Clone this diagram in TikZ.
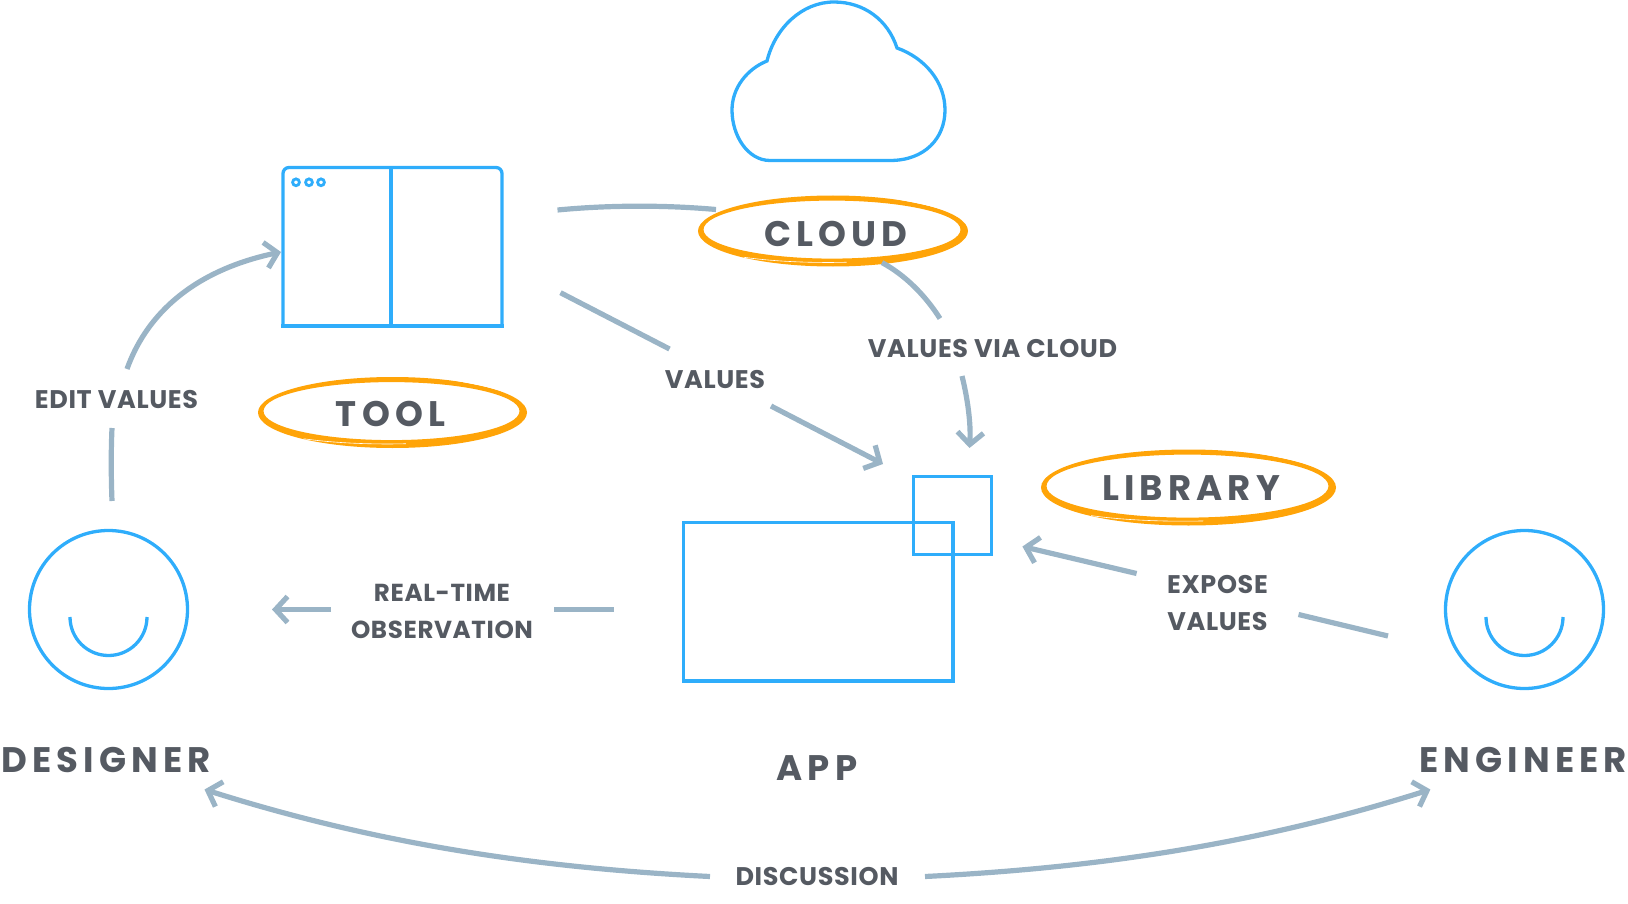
\documentclass[tikz,border=0pt]{standalone}
\usepackage{fontspec}
\usetikzlibrary{arrows.meta,shapes.geometric}
\newfontfamily\biglab[LetterSpace=14.5]{Poppins}
\newfontfamily\smalllab[LetterSpace=2.5]{Poppins}
\definecolor{blueline}{HTML}{2FADFB}
\definecolor{conn}{HTML}{9AB4C6}
\definecolor{ink}{HTML}{555A62}
\definecolor{brush}{HTML}{FFA408}
\tikzset{
  x=1pt,y=-1pt,
  shape line/.style={draw=blueline,line width=3.3pt},
  conn line/.style={draw=conn,line width=5.2pt},
  arrowed/.style={conn line,-{Straight Barb[length=12pt,width=26pt,line width=5.2pt]}},
  big label/.style={text=ink,font=\biglab\bfseries\fontsize{35.5}{38}\selectfont,inner sep=0pt},
  small label/.style={text=ink,font=\smalllab\bfseries\fontsize{25.5}{37}\selectfont,inner sep=0pt,align=center},
  tight label/.style={small label,font=\smalllab\bfseries\fontsize{24.6}{37}\selectfont},
}
% brush ellipse: centre, rx, ry
\newcommand{\brushring}[4]{%
  \fill[brush,even odd rule] (#1,#2) ellipse [x radius=#3,y radius=#4]
     (#1-1,#2-1.4) ellipse [x radius=#3-6.5,y radius=#4-6.5];
  \draw[white,line width=0.8pt] (#1+#3*0.42,#2-#4*0.95) .. controls (#1+#3*0.55,#2-#4*0.84) and (#1+#3*0.7,#2-#4*0.76) .. (#1+#3*0.84,#2-#4*0.58);
  \draw[white,line width=0.6pt] (#1-#3*0.66,#2+#4*0.74) .. controls (#1-#3*0.4,#2+#4*0.88) and (#1-#3*0.1,#2+#4*0.9) .. (#1+#3*0.1,#2+#4*0.88);
}
\begin{document}
\begin{tikzpicture}
\useasboundingbox (0,0) rectangle (1628,904);
% cloud
\draw[shape line] (770,160.5) .. controls (748,160.5) and (732,136) .. (732,110)
  .. controls (732,88) and (747,69) .. (767,61)
  .. controls (775,28) and (802,2) .. (834,2)
  .. controls (864,2) and (888,20) .. (897,48)
  .. controls (925,58) and (945,82) .. (945,110)
  .. controls (945,138) and (925,160.5) .. (890,160.5) -- cycle;
% tool window
\draw[shape line,rounded corners=6pt] (283,326) -- (283,167.5) -- (502,167.5) -- (502,326);
\draw[shape line] (281.4,326) -- (503.6,326) (391,167) -- (391,326);
\foreach \dx in {296,309,321}{\draw[blueline,line width=2.8pt] (\dx,182.3) circle (3.4);}
% app
\draw[shape line] (683.5,522.5) rectangle (953,681);
\draw[shape line] (913.5,476.5) rectangle (991.5,554.5);
% people
\node[circle,draw=blueline,line width=3.3pt,minimum size=158pt,inner sep=0pt] (designer) at (108.5,609.5) {};
\node[circle,draw=blueline,line width=3.3pt,minimum size=158pt,inner sep=0pt] (engineer) at (1524.5,609.5) {};
\draw[shape line] (70,617) arc [start angle=180,end angle=0,radius=38.5,y=-1pt];
\draw[shape line] (1486,617) arc [start angle=180,end angle=0,radius=38.5,y=-1pt];
% brush rings
\brushring{392.5}{412.5}{134.5}{35.5}
\brushring{833}{231}{135}{35.5}
\brushring{1188.5}{487.5}{147.5}{38}
% big labels
\node[big label] (toollab) at (390.5,413.5) {TOOL};
\node[big label] (cloudlab) at (836,233.5) {CLOUD};
\node[big label] (liblab) at (1191,488) {LIBRARY};
\node[big label] (deslab) at (106,760) {DESIGNER};
\node[big label] (applab) at (817,768) {APP};
\node[big label] (englab) at (1523,760) {ENGINEER};
% small labels
\node[small label] (edit) at (116.5,400) {EDIT VALUES};
\node[small label] (values) at (715,380) {VALUES};
\node[small label] (viacloud) at (992.5,349) {VALUES VIA CLOUD};
\node[tight label] (realtime) at (442,611.5) {REAL-TIME\\OBSERVATION};
\node[small label] (expose) at (1217.5,603.5) {EXPOSE\\VALUES};
\node[small label] (disc) at (817,877) {DISCUSSION};
% connector end points
\coordinate (a1) at (112,501); \coordinate (a2) at (112,428);
\coordinate (a3) at (127,369); \coordinate (a4) at (281,252);
\coordinate (b1) at (557.5,210); \coordinate (b2) at (716,209.5);
\coordinate (b3) at (882,262.6); \coordinate (b4) at (940,318.5);
\coordinate (b5) at (962,376); \coordinate (b6) at (969.5,448);
\coordinate (c1) at (560.5,292.7); \coordinate (c2) at (669.5,349);
\coordinate (c3) at (771,406); \coordinate (c4) at (883,464);
\coordinate (d1) at (613.5,609.5); \coordinate (d2) at (554,609.5);
\coordinate (d3) at (331,609.5); \coordinate (d4) at (272,609.5);
\coordinate (e1) at (1388,636); \coordinate (e2) at (1298.5,614.5);
\coordinate (e3) at (1136.6,573.5); \coordinate (e4) at (1022.4,546.5);
\coordinate (f1) at (710,876.5); \coordinate (f2) at (204.5,789.5);
\coordinate (f3) at (925,876.5); \coordinate (f4) at (1430.4,789.5);
% connectors
\draw[conn line] (a1) .. controls (111,475) and (111,450) .. (a2);
\draw[arrowed] (a3) .. controls (150,305) and (205,268) .. (a4);
\draw[conn line] (b1) .. controls (610,205) and (665,205) .. (b2);
\draw[conn line] (b3) .. controls (905,275) and (925,295) .. (b4);
\draw[arrowed] (b5) .. controls (968,400) and (971,425) .. (b6);
\draw[conn line] (c1) -- (c2);
\draw[arrowed] (c3) -- (c4);
\draw[conn line] (d1) -- (d2);
\draw[arrowed] (d3) -- (d4);
\draw[conn line] (e1) -- (e2);
\draw[arrowed] (e3) -- (e4);
\draw[arrowed] (f1) .. controls (540,868) and (380,845) .. (f2);
\draw[arrowed] (f3) .. controls (1095,868) and (1255,845) .. (f4);
\end{tikzpicture}
\end{document}
